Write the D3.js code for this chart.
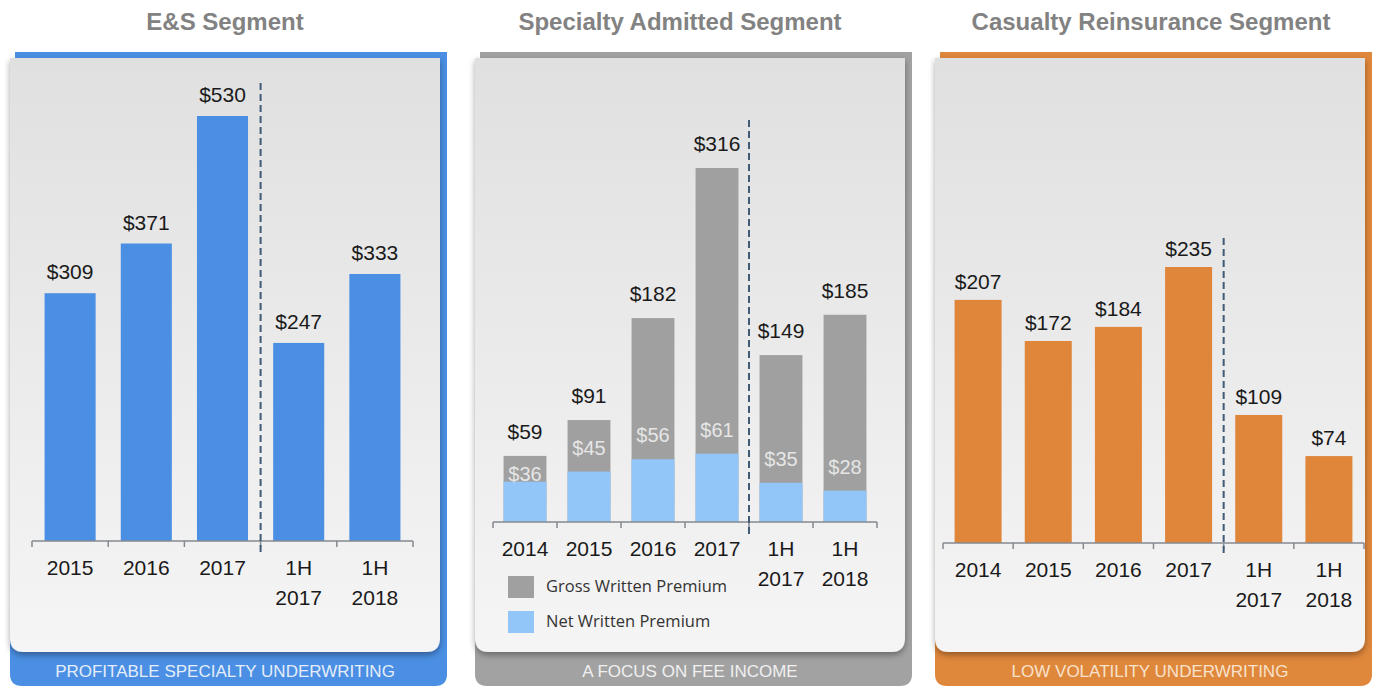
<!DOCTYPE html>
<html>
<head>
<meta charset="utf-8">
<script src="https://cdnjs.cloudflare.com/ajax/libs/d3/7.8.5/d3.min.js"></script>
<style>
  html, body { margin: 0; padding: 0; background: #fff; }
  svg { display: block; font-family: "Liberation Sans", Arial, sans-serif; }
</style>
</head>
<body>
<svg id="chart" width="1374" height="686"></svg>
<script>
// ---- data ----
var titles = ["E&S Segment", "Specialty Admitted Segment", "Casualty Reinsurance Segment"];
var footers = ["PROFITABLE SPECIALTY UNDERWRITING", "A FOCUS ON FEE INCOME", "LOW VOLATILITY UNDERWRITING"];

var esCategories = ["2015", "2016", "2017", "1H 2017", "1H 2018"];
var esValues = [309, 371, 530, 247, 333];

var saCategories = ["2014", "2015", "2016", "2017", "1H 2017", "1H 2018"];
var saGross = [59, 91, 182, 316, 149, 185];
var saNet = [36, 45, 56, 61, 35, 28];
var legendLabels = ["Gross Written Premium", "Net Written Premium"];

var crCategories = ["2014", "2015", "2016", "2017", "1H 2017", "1H 2018"];
var crValues = [207, 172, 184, 235, 109, 74];

// ---- layout per panel ----
var panels = [
  { left: 10,  titleX: 225,  axis: [32, 413],  base: 541, maxTop: 116, labelGap: 14, dashTop: 83,  split: 3,
    frame: "#4a8fe3", bar: "#4a8fe3", footText: "#e4edf9",
    cats: esCategories, values: esValues },
  { left: 475, titleX: 680,  axis: [493, 877], base: 522, maxTop: 168, labelGap: 17, dashTop: 120, split: 4,
    frame: "#a2a2a2", bar: "#a0a0a0", footText: "#f0f0f0",
    cats: saCategories, values: saGross, net: saNet },
  { left: 935, titleX: 1151, axis: [943, 1364], base: 543, maxTop: 267, labelGap: 11, dashTop: 238, split: 4,
    frame: "#df873b", bar: "#df863a", footText: "#f8e2cc",
    cats: crCategories, values: crValues }
];

var netColor = "#93c6f8";
var cardW = 430, backW = 437, backTop = 52, cardTop = 58, cardBottom = 652, bandBottom = 686;

var svg = d3.select("#chart");
var defs = svg.append("defs");

var grad = defs.append("linearGradient").attr("id", "cardGrad")
  .attr("x1", 0).attr("y1", 0).attr("x2", 0).attr("y2", 1);
grad.append("stop").attr("offset", "0%").attr("stop-color", "#e0e0e0");
grad.append("stop").attr("offset", "100%").attr("stop-color", "#f5f5f5");

var shadow = defs.append("filter").attr("id", "shadow")
  .attr("x", "-5%").attr("y", "-5%").attr("width", "110%").attr("height", "115%");
shadow.append("feDropShadow").attr("dx", 0).attr("dy", 3)
  .attr("stdDeviation", 3).attr("flood-color", "#000").attr("flood-opacity", 0.35);

// rect with rounded bottom corners only
function bottomRounded(x, y, w, h, r) {
  var p = d3.path();
  p.moveTo(x, y);
  p.lineTo(x + w, y);
  p.lineTo(x + w, y + h - r);
  p.quadraticCurveTo(x + w, y + h, x + w - r, y + h);
  p.lineTo(x + r, y + h);
  p.quadraticCurveTo(x, y + h, x, y + h - r);
  p.closePath();
  return p.toString();
}

panels.forEach(function (P, i) {
  var g = svg.append("g");

  // title
  g.append("text")
    .attr("x", P.titleX).attr("y", 30)
    .attr("text-anchor", "middle")
    .style("font-size", "24px").style("font-weight", "bold")
    .style("fill", "#828282")
    .text(titles[i]);

  // coloured back plate
  g.append("path")
    .attr("d", bottomRounded(P.left, backTop, backW, bandBottom - backTop, 12))
    .style("fill", P.frame);
  g.append("rect")
    .attr("x", P.left).attr("y", backTop).attr("width", 5).attr("height", 8)
    .style("fill", "#fff");

  // card
  g.append("path")
    .attr("d", bottomRounded(P.left, cardTop, cardW, cardBottom - cardTop, 14))
    .style("fill", "url(#cardGrad)")
    .attr("filter", "url(#shadow)");

  // footer text
  g.append("text")
    .attr("x", P.left + cardW / 2).attr("y", 677)
    .attr("text-anchor", "middle")
    .style("font-size", "17px")
    .style("fill", P.footText)
    .text(footers[i]);

  // scales
  var x = d3.scaleBand().domain(P.cats).range(P.axis).padding(0);
  var y = d3.scaleLinear().domain([0, d3.max(P.values)]).range([P.base, P.maxTop]);
  var bw = x.bandwidth() * 0.67;

  // bars
  g.selectAll(".bar").data(P.values).enter().append("rect")
    .attr("x", function (d, j) { return x(P.cats[j]) + (x.bandwidth() - bw) / 2; })
    .attr("y", function (d) { return y(d); })
    .attr("width", bw)
    .attr("height", function (d) { return P.base - y(d); })
    .style("fill", P.bar);

  if (P.net) {
    g.selectAll(".net").data(P.net).enter().append("rect")
      .attr("x", function (d, j) { return x(P.cats[j]) + (x.bandwidth() - bw) / 2; })
      .attr("y", function (d) { return y(d); })
      .attr("width", bw)
      .attr("height", function (d) { return P.base - y(d); })
      .style("fill", netColor);

    g.selectAll(".netLabel").data(P.net).enter().append("text")
      .attr("x", function (d, j) { return x(P.cats[j]) + x.bandwidth() / 2; })
      .attr("y", function (d, j) { return Math.max(y(d) - 17, y(P.values[j]) + 25); })
      .attr("text-anchor", "middle")
      .style("font-size", "20px")
      .style("fill", "#e6e6e6")
      .text(function (d) { return "$" + d; });
  }

  // value labels
  g.selectAll(".valLabel").data(P.values).enter().append("text")
    .attr("x", function (d, j) { return x(P.cats[j]) + x.bandwidth() / 2; })
    .attr("y", function (d) { return y(d) - P.labelGap; })
    .attr("text-anchor", "middle")
    .style("font-size", "21px")
    .style("fill", "#1a1a1a")
    .text(function (d) { return "$" + d; });

  // axis line and boundary ticks
  var axisG = g.append("g").style("stroke", "#858a90").style("stroke-width", 1.5);
  axisG.append("line")
    .attr("x1", P.axis[0]).attr("x2", P.axis[1])
    .attr("y1", P.base).attr("y2", P.base);
  var bounds = P.cats.map(function (c) { return x(c); }).concat([P.axis[1]]);
  axisG.selectAll(".tick").data(bounds).enter().append("line")
    .attr("x1", function (d) { return d; }).attr("x2", function (d) { return d; })
    .attr("y1", P.base).attr("y2", P.base + 6);

  // category labels
  P.cats.forEach(function (c) {
    var lines = c.split(" ");
    var t = g.append("text")
      .attr("x", x(c) + x.bandwidth() / 2)
      .attr("y", P.base + 34)
      .attr("text-anchor", "middle")
      .style("font-size", "21px")
      .style("fill", "#1a1a1a");
    lines.forEach(function (l, k) {
      t.append("tspan")
        .attr("x", x(c) + x.bandwidth() / 2)
        .attr("dy", k === 0 ? 0 : 30)
        .text(l);
    });
  });

  // dashed separator
  var sx = x(P.cats[P.split]);
  g.append("line")
    .attr("x1", sx).attr("x2", sx)
    .attr("y1", P.dashTop).attr("y2", P.base + 12)
    .style("stroke", "#3f5b75").style("stroke-width", 2)
    .style("stroke-dasharray", "7,4");

  // legend (specialty panel)
  if (P.net) {
    var leg = g.append("g");
    var legColors = [P.bar, netColor];
    legendLabels.forEach(function (lab, k) {
      leg.append("rect")
        .attr("x", 508).attr("y", 576 + k * 35)
        .attr("width", 26).attr("height", 22)
        .style("fill", legColors[k]);
      leg.append("text")
        .attr("x", 546).attr("y", 592 + k * 35)
        .style("font-family", "'Open Sans', sans-serif")
        .style("font-size", "16.5px")
        .style("fill", "#333")
        .text(lab);
    });
  }
});
</script>
</body>
</html>
